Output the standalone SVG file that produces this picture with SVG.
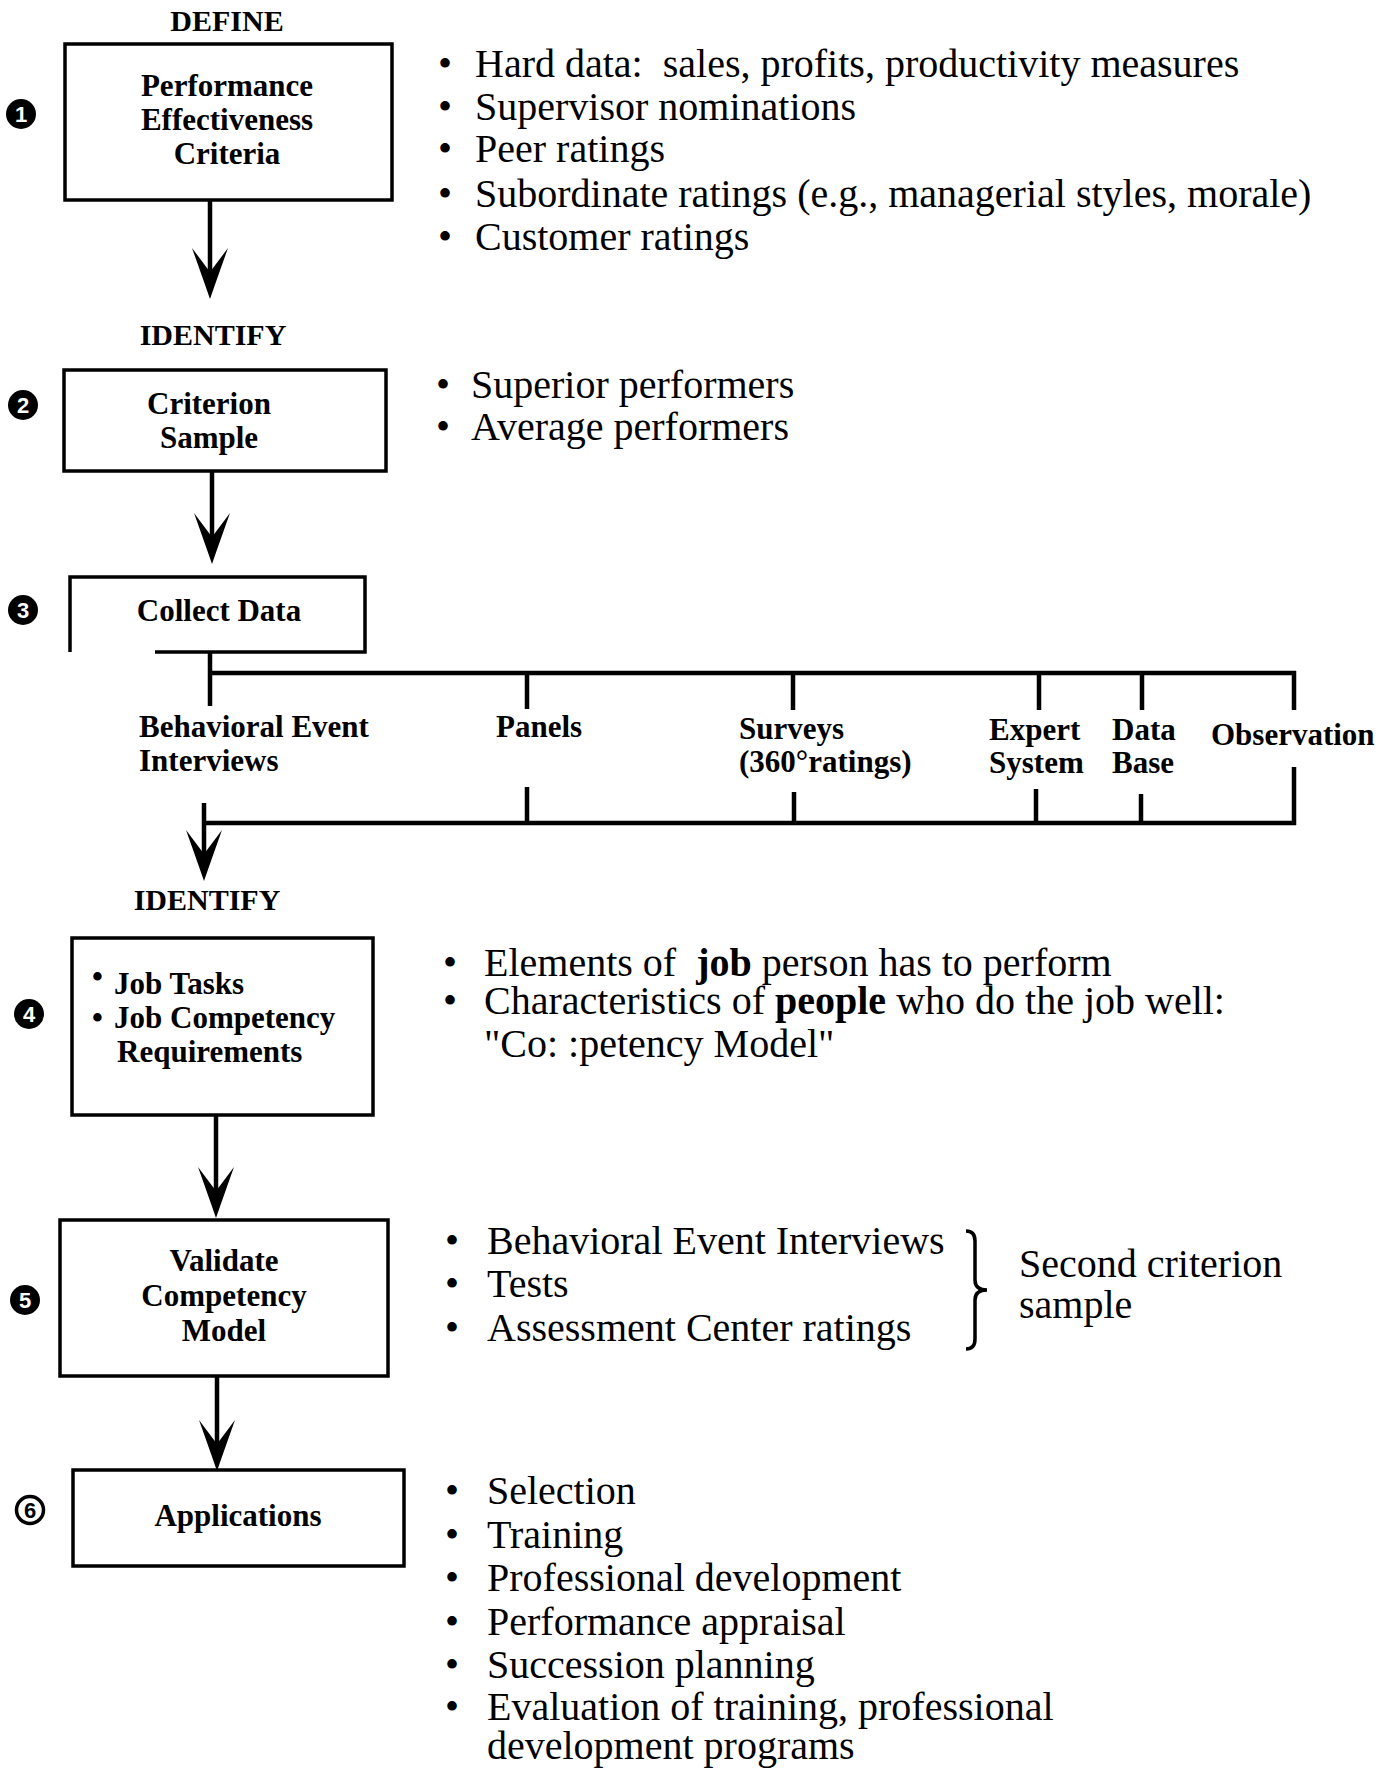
<svg xmlns="http://www.w3.org/2000/svg" width="1395" height="1768" viewBox="0 0 1395 1768">
<style>
  .box { fill: #fff; stroke: #000; stroke-width: 3.5; }
  .ln { fill: none; stroke: #000; stroke-width: 4.5; stroke-linecap: butt; }
  .hd { font-family: "Liberation Serif", serif; font-weight: bold; font-size: 30px; fill: #000; }
  .bx { font-family: "Liberation Serif", serif; font-weight: bold; font-size: 31px; fill: #000; }
  .li { font-family: "Liberation Serif", serif; font-size: 40px; fill: #000; }
  .num { font-family: "Liberation Sans", sans-serif; font-weight: bold; font-size: 22px; text-anchor: middle; }
  .c { text-anchor: middle; }
</style>
<defs>
  <marker id="ah" markerUnits="userSpaceOnUse" viewBox="0 0 52 36" markerWidth="52" markerHeight="36" refX="30" refY="18" orient="auto">
    <path d="M0,0 Q28,10 51,18 Q28,26 0,36 L24,18 Z" fill="#000"/>
  </marker>
</defs>

<g id="node1">
  <text class="hd c" x="227" y="31">DEFINE</text>
  <rect class="box" x="65" y="44" width="327" height="156"/>
  <text class="bx c" x="227" y="96">Performance</text>
  <text class="bx c" x="227" y="130">Effectiveness</text>
  <text class="bx c" x="227" y="164">Criteria</text>
  <circle cx="21" cy="114" r="15" fill="#000"/>
  <text class="num" x="21" y="122" fill="#fff">1</text>
  <text class="li" x="438" y="77">•</text><text class="li" x="475" y="77" xml:space="preserve">Hard data:  sales, profits, productivity measures</text>
  <text class="li" x="438" y="120">•</text><text class="li" x="475" y="120">Supervisor nominations</text>
  <text class="li" x="438" y="162">•</text><text class="li" x="475" y="162">Peer ratings</text>
  <text class="li" x="438" y="207">•</text><text class="li" x="475" y="207">Subordinate ratings (e.g., managerial styles, morale)</text>
  <text class="li" x="438" y="250">•</text><text class="li" x="475" y="250">Customer ratings</text>
</g>

<g id="node2">
  <text class="hd c" x="213" y="345">IDENTIFY</text>
  <rect class="box" x="64" y="370" width="322" height="101"/>
  <text class="bx c" x="209" y="414">Criterion</text>
  <text class="bx c" x="209" y="448">Sample</text>
  <circle cx="23" cy="405" r="15" fill="#000"/>
  <text class="num" x="23" y="413" fill="#fff">2</text>
  <text class="li" x="436" y="398">•</text><text class="li" x="471" y="398">Superior performers</text>
  <text class="li" x="436" y="440">•</text><text class="li" x="471" y="440">Average performers</text>
</g>

<g id="node3">
  <path class="box" d="M70,652 L70,577 L365,577 L365,652 L155,652" fill="none"/>
  <text class="bx c" x="219" y="621">Collect Data</text>
  <circle cx="23" cy="610" r="15" fill="#000"/>
  <text class="num" x="23" y="618" fill="#fff">3</text>
</g>

<g id="methods">
  <text class="bx" x="139" y="737">Behavioral Event</text>
  <text class="bx" x="139" y="771">Interviews</text>
  <text class="bx" x="496" y="737">Panels</text>
  <text class="bx" x="739" y="739">Surveys</text>
  <text class="bx" x="739" y="772">(360°ratings)</text>
  <text class="bx" x="989" y="740">Expert</text>
  <text class="bx" x="989" y="773">System</text>
  <text class="bx" x="1112" y="740">Data</text>
  <text class="bx" x="1112" y="773">Base</text>
  <text class="bx" x="1211" y="745">Observation</text>
</g>

<g id="node4">
  <text class="hd c" x="207" y="910">IDENTIFY</text>
  <rect class="box" x="72" y="938" width="301" height="177"/>
  <text class="bx" x="92" y="987">•</text><text class="bx" x="114" y="994">Job Tasks</text>
  <text class="bx" x="92" y="1028">•</text><text class="bx" x="114" y="1028">Job Competency</text>
  <text class="bx" x="117" y="1062">Requirements</text>
  <circle cx="29" cy="1014" r="15" fill="#000"/>
  <text class="num" x="29" y="1022" fill="#fff">4</text>
  <text class="li" x="443" y="976">•</text><text class="li" x="484" y="976" xml:space="preserve">Elements of  <tspan font-weight="bold">job</tspan> person has to perform</text>
  <text class="li" x="443" y="1014">•</text><text class="li" x="484" y="1014">Characteristics of <tspan font-weight="bold">people</tspan> who do the job well:</text>
  <text class="li" x="484" y="1057">"Co: :petency Model"</text>
</g>

<g id="node5">
  <rect class="box" x="60" y="1220" width="328" height="156"/>
  <text class="bx c" x="224" y="1271">Validate</text>
  <text class="bx c" x="224" y="1306">Competency</text>
  <text class="bx c" x="224" y="1341">Model</text>
  <circle cx="25" cy="1300" r="15" fill="#000"/>
  <text class="num" x="25" y="1308" fill="#fff">5</text>
  <text class="li" x="445" y="1254">•</text><text class="li" x="487" y="1254">Behavioral Event Interviews</text>
  <text class="li" x="445" y="1297">•</text><text class="li" x="487" y="1297">Tests</text>
  <text class="li" x="445" y="1341">•</text><text class="li" x="487" y="1341">Assessment Center ratings</text>
  <path d="M966,1231 Q975,1231 975,1241 L975,1280 Q975,1290 987,1290 Q975,1290 975,1300 L975,1339 Q975,1349 966,1349" fill="none" stroke="#000" stroke-width="3.5"/>
  <text class="li" x="1019" y="1277">Second criterion</text>
  <text class="li" x="1019" y="1318">sample</text>
</g>

<g id="node6">
  <rect class="box" x="73" y="1470" width="331" height="96"/>
  <text class="bx c" x="238" y="1526">Applications</text>
  <circle cx="30" cy="1510" r="13.5" fill="#fff" stroke="#000" stroke-width="3.5"/>
  <text class="num" x="30" y="1518" fill="#000">6</text>
  <text class="li" x="445" y="1504">•</text><text class="li" x="487" y="1504">Selection</text>
  <text class="li" x="445" y="1548">•</text><text class="li" x="487" y="1548">Training</text>
  <text class="li" x="445" y="1591">•</text><text class="li" x="487" y="1591">Professional development</text>
  <text class="li" x="445" y="1635">•</text><text class="li" x="487" y="1635">Performance appraisal</text>
  <text class="li" x="445" y="1678">•</text><text class="li" x="487" y="1678">Succession planning</text>
  <text class="li" x="445" y="1720">•</text><text class="li" x="487" y="1720">Evaluation of training, professional</text>
  <text class="li" x="487" y="1759">development programs</text>
</g>

<g id="connectors">
  <line class="ln" x1="210" y1="200" x2="210" y2="278" marker-end="url(#ah)"/>
  <line class="ln" x1="212" y1="471" x2="212" y2="543" marker-end="url(#ah)"/>
  <line class="ln" x1="210" y1="652" x2="210" y2="706"/>
  <line class="ln" x1="208" y1="673" x2="1296" y2="673"/>
  <line class="ln" x1="527" y1="673" x2="527" y2="709"/>
  <line class="ln" x1="793" y1="673" x2="793" y2="710"/>
  <line class="ln" x1="1039" y1="673" x2="1039" y2="710"/>
  <line class="ln" x1="1142" y1="673" x2="1142" y2="710"/>
  <line class="ln" x1="1294" y1="671" x2="1294" y2="710"/>
  <line class="ln" x1="527" y1="787" x2="527" y2="823"/>
  <line class="ln" x1="794" y1="792" x2="794" y2="823"/>
  <line class="ln" x1="1036" y1="789" x2="1036" y2="823"/>
  <line class="ln" x1="1141" y1="794" x2="1141" y2="823"/>
  <line class="ln" x1="1294" y1="767" x2="1294" y2="825"/>
  <line class="ln" x1="204" y1="823" x2="1296" y2="823"/>
  <line class="ln" x1="204" y1="803" x2="204" y2="860" marker-end="url(#ah)"/>
  <line class="ln" x1="216" y1="1115" x2="216" y2="1197" marker-end="url(#ah)"/>
  <line class="ln" x1="217" y1="1376" x2="217" y2="1450" marker-end="url(#ah)"/>
</g>
</svg>
